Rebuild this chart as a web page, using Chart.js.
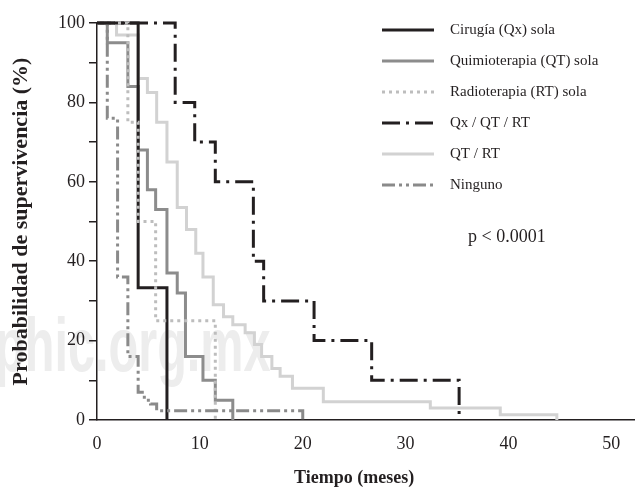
<!DOCTYPE html>
<html>
<head>
<meta charset="utf-8">
<script src="https://cdn.jsdelivr.net/npm/chart.js@4"></script>
<style>
  body { margin: 0; background: #fff; }
</style>
</head>
<body>
<canvas id="myChart" width="637" height="491"></canvas>
<script>
// Kaplan-Meier curves: time in months, survival in %
var seriesNames = ['Cirugía (Qx) sola', 'Quimioterapia (QT) sola', 'Radioterapia (RT) sola', 'Qx / QT / RT', 'QT / RT', 'Ninguno'];

var cirugiaT = [0, 4, 6.8];
var cirugiaS = [100, 33.3, 0];

var qtT = [0, 1, 3, 4, 4.9, 5.7, 6.8, 7.8, 8.6, 10.3, 11.5, 13.2];
var qtS = [100, 95, 84, 68, 58, 53, 37, 32, 16, 10, 5, 0];

var rtT = [0, 3, 4, 5.7, 11.5];
var rtS = [100, 75, 50, 25, 0];

var qxQtRtT = [0, 7.6, 9.5, 11.5, 15.2, 16.2, 21.1, 26.7, 35.2];
var qxQtRtS = [100, 80, 70, 60, 40, 30, 20, 10, 0];

var qtRtT = [0, 1.9, 4, 4.9, 5.8, 6.8, 7.8, 8.7, 9.6, 10.3, 11.3, 12.3, 13.2, 14.4, 15.3, 16, 17, 17.8, 19, 22, 32.4, 39.2, 44.7];
var qtRtS = [100, 97, 86, 82.5, 75, 65, 53.5, 48, 42, 36, 29, 26, 24, 22, 19, 16, 13, 11, 8, 4.6, 3, 1.3, 0];

var ningunoT = [0, 1, 2, 3, 4, 4.6, 5.2, 5.8, 20];
var ningunoS = [100, 76, 36, 16, 7, 5, 4, 2.3, 0];

var xTickLabels = [0, 10, 20, 30, 40, 50];
var yTickLabels = [0, 20, 40, 60, 80, 100];
var pValueText = 'p < 0.0001';

var ink = '#231f20';

function toPoints(t, s) {
    return t.map(function (v, i) { return { x: v, y: s[i] }; });
}

function curve(label, t, s, color, dash, order) {
    return {
        label: label,
        data: toPoints(t, s),
        borderColor: color,
        borderWidth: 3,
        borderDash: dash,
        borderCapStyle: 'butt',
        borderJoinStyle: 'miter',
        stepped: true,
        pointRadius: 0,
        fill: false,
        clip: false,
        order: order
    };
}

// watermark goes under everything else
var watermark = {
    id: 'watermark',
    beforeDraw: function (chart) {
        var ctx = chart.ctx;
        ctx.save();
        ctx.fillStyle = '#ededed';
        ctx.font = 'bold 76px "Liberation Sans"';
        ctx.textBaseline = 'alphabetic';
        ctx.translate(-5, 371);
        ctx.scale(0.64, 1);
        ctx.fillText('phic.org.mx', 0, 0);
        ctx.restore();
    }
};

// legend inside the plot, x-axis title and p value
var extras = {
    id: 'extras',
    afterDraw: function (chart) {
        var ctx = chart.ctx;
        ctx.save();
        chart.data.datasets.forEach(function (ds, i) {
            var y = 30 + i * 31;
            ctx.beginPath();
            ctx.strokeStyle = ds.borderColor;
            ctx.lineWidth = ds.borderWidth;
            ctx.lineCap = 'butt';
            ctx.setLineDash(ds.borderDash || []);
            ctx.moveTo(382, y);
            ctx.lineTo(434, y);
            ctx.stroke();
            ctx.setLineDash([]);
            ctx.fillStyle = ink;
            ctx.font = '15px "Liberation Serif"';
            ctx.textAlign = 'left';
            ctx.textBaseline = 'middle';
            ctx.fillText(ds.label, 450, y);
        });
        ctx.font = '18px "Liberation Serif"';
        ctx.fillText(pValueText, 468, 237);

        var xs = chart.scales.x;
        var cx = (xs.getPixelForValue(0) + xs.getPixelForValue(50)) / 2;
        ctx.font = 'bold 18px "Liberation Serif"';
        ctx.textAlign = 'center';
        ctx.fillText('Tiempo (meses)', cx, 478);
        ctx.restore();
    }
};

var ctx = document.getElementById('myChart').getContext('2d');
var myChart = new Chart(ctx, {
    type: 'line',
    data: {
        datasets: [
            curve(seriesNames[0], cirugiaT, cirugiaS, ink, [], 3),
            curve(seriesNames[1], qtT, qtS, '#8c8c8c', [], 4),
            curve(seriesNames[2], rtT, rtS, '#bdbdbd', [3, 4], 2),
            curve(seriesNames[3], qxQtRtT, qxQtRtS, ink, [18, 6, 3, 6], 0),
            curve(seriesNames[4], qtRtT, qtRtS, '#d2d2d2', [], 5),
            curve(seriesNames[5], ningunoT, ningunoS, '#8a8a8a', [13, 4, 3, 4, 3, 4], 1)
        ]
    },
    options: {
        responsive: false,
        animation: false,
        events: [],
        layout: { padding: { top: 23, right: 3, left: 0, bottom: 0 } },
        plugins: {
            legend: { display: false },
            tooltip: { enabled: false }
        },
        scales: {
            x: {
                type: 'linear',
                min: 0,
                max: 52.2,
                grid: { display: false, drawTicks: false },
                border: { color: ink, width: 1.5 },
                ticks: {
                    stepSize: 10,
                    includeBounds: false,
                    maxRotation: 0,
                    padding: 13,
                    color: ink,
                    font: { family: 'Liberation Serif', size: 18 },
                    callback: function (v) { return xTickLabels.indexOf(v) >= 0 ? v : ''; }
                },
                afterFit: function (s) { s.height = 71; }
            },
            y: {
                min: 0,
                max: 100,
                grid: { drawOnChartArea: false, drawTicks: true, tickLength: 8, color: ink, lineWidth: 1.5 },
                border: { color: ink, width: 1.5 },
                ticks: {
                    stepSize: 10,
                    padding: 4,
                    color: ink,
                    font: { family: 'Liberation Serif', size: 18 },
                    callback: function (v) { return yTickLabels.indexOf(v) >= 0 ? v : ''; }
                },
                title: {
                    display: true,
                    text: 'Probabilidad de supervivencia (%)',
                    color: ink,
                    font: { family: 'Liberation Serif', size: 22, weight: 'bold' },
                    padding: { top: 8, bottom: 0 }
                },
                afterFit: function (s) { s.width = 97; }
            }
        }
    },
    plugins: [watermark, extras]
});
</script>
</body>
</html>
